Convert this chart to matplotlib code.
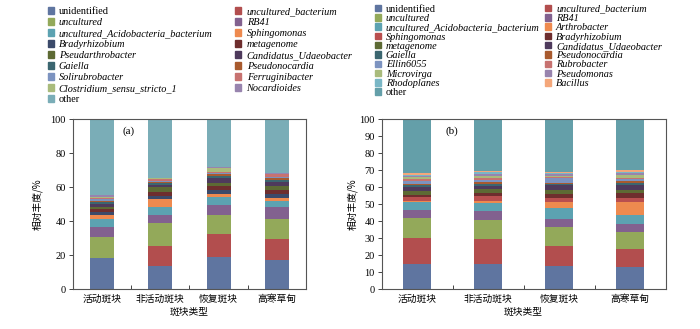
import matplotlib
matplotlib.use("Agg")
import matplotlib.pyplot as plt
from matplotlib.patches import Rectangle
import numpy as np

plt.rcParams['font.family'] = ['Liberation Serif', 'Noto Sans CJK SC']
CJK = ['Noto Sans CJK SC', 'DejaVu Sans']

# categories (x axis)
patches = ['活动斑块', '非活动斑块', '恢复斑块', '高寒草甸']

# ---- panel (a) : series, bottom to top ----
names_a = ['unidentified', 'uncultured_bacterium', 'uncultured', 'RB41',
           'uncultured_Acidobacteria_bacterium', 'Sphingomonas', 'Bradyrhizobium',
           'metagenome', 'Pseudarthrobacter', 'Candidatus_Udaeobacter', 'Gaiella',
           'Pseudonocardia', 'Solirubrobacter', 'Ferruginibacter',
           'Clostridium_sensu_stricto_1', 'Nocardioides', 'other']
unidentified_a = [18.2, 13.7, 19.2, 17.1]
uncult_bact_a = [0.3, 11.8, 13.2, 12.7]
uncultured_a = [12.3, 13.5, 11.1, 11.8]
rb41_a = [5.9, 4.5, 5.9, 6.8]
acido_a = [4.9, 4.8, 4.8, 3.8]
sphingo_a = [2.3, 5.0, 2.0, 1.5]
brady_a = [1.6, 1.6, 2.4, 2.5]
metagenome_a = [2.0, 2.5, 2.4, 2.4]
pseudarthro_a = [1.0, 2.5, 1.6, 2.0]
candidatus_a = [1.8, 1.6, 3.1, 2.4]
gaiella_a = [1.2, 1.2, 1.2, 1.2]
pseudonoc_a = [0.6, 0.6, 0.8, 1.2]
solirubro_a = [0.9, 0.6, 0.8, 0.8]
ferrugini_a = [0.9, 1.2, 0.6, 1.6]
clostridium_a = [0.4, 0.2, 2.5, 0.3]
nocardioides_a = [1.0, 0.2, 0.6, 0.3]
other_a = [44.7, 34.5, 27.8, 31.6]
values_a = [unidentified_a, uncult_bact_a, uncultured_a, rb41_a, acido_a, sphingo_a,
            brady_a, metagenome_a, pseudarthro_a, candidatus_a, gaiella_a, pseudonoc_a,
            solirubro_a, ferrugini_a, clostridium_a, nocardioides_a, other_a]
colors_a = ['#5f75a0', '#b24e4e', '#93a95a', '#82618f', '#5ca2b1', '#ee8a4f',
            '#3b4a6a', '#6e2e2e', '#5d6a34', '#4e3a5c', '#3b6670', '#a85a2e',
            '#7c93c0', '#c77270', '#a9bb7c', '#9884ae', '#7aadb7']

# ---- panel (b) ----
names_b = ['unidentified', 'uncultured_bacterium', 'uncultured', 'RB41',
           'uncultured_Acidobacteria_bacterium', 'Arthrobacter', 'Sphingomonas',
           'Bradyrhizobium', 'metagenome', 'Candidatus_Udaeobacter', 'Gaiella',
           'Pseudonocardia', 'Ellin6055', 'Rubrobacter', 'Microvirga', 'Pseudomonas',
           'Rhodoplanes', 'Bacillus', 'other']
unidentified_b = [14.7, 14.7, 13.5, 12.9]
uncult_bact_b = [15.6, 15.0, 12.0, 10.8]
uncultured_b = [11.8, 11.2, 11.0, 10.2]
rb41_b = [4.5, 5.4, 4.8, 4.7]
acido_b = [4.6, 4.3, 6.7, 4.9]
arthro_b = [0.8, 1.6, 3.1, 8.0]
sphingo_b = [2.5, 2.7, 2.7, 2.0]
brady_b = [1.0, 2.0, 2.0, 2.9]
metagenome_b = [2.5, 2.0, 2.5, 2.0]
candidatus_b = [2.0, 1.6, 2.9, 2.9]
gaiella_b = [1.4, 1.6, 1.0, 1.0]
pseudonoc_b = [0.6, 0.8, 0.6, 1.6]
ellin_b = [1.8, 1.2, 2.4, 0.8]
rubro_b = [1.0, 1.2, 0.8, 0.8]
microvirga_b = [1.0, 1.2, 0.8, 1.6]
pseudomonas_b = [1.0, 1.6, 0.8, 1.2]
rhodoplanes_b = [0.6, 0.8, 0.6, 0.6]
bacillus_b = [0.8, 0.6, 0.6, 1.0]
other_b = [31.8, 30.5, 31.2, 30.1]
values_b = [unidentified_b, uncult_bact_b, uncultured_b, rb41_b, acido_b, arthro_b,
            sphingo_b, brady_b, metagenome_b, candidatus_b, gaiella_b, pseudonoc_b,
            ellin_b, rubro_b, microvirga_b, pseudomonas_b, rhodoplanes_b, bacillus_b,
            other_b]
colors_b = ['#5f75a0', '#b24e4e', '#93a95a', '#82618f', '#5ca2b1', '#ee8a4f',
            '#b94f4f', '#6e2e2e', '#5d6a34', '#4e3a5c', '#3b6670', '#a85a2e',
            '#7c93c0', '#c77270', '#a9bb7c', '#9884ae', '#7ab7c6', '#f4a77a',
            '#649fa9']

UPRIGHT = ('unidentified', 'other')

fig = plt.figure(figsize=(7, 3.29), dpi=100)
ax_a = fig.add_axes([0.1039, 0.1207, 0.3333, 0.5167])
ax_b = fig.add_axes([0.5453, 0.1207, 0.4057, 0.5167])


def draw_panel(ax, names, values, colors, width, yticks, tag, tag_x):
    x = np.arange(len(patches))
    bottom = np.zeros(len(patches))
    for name, vals, col in zip(names, values, colors):
        ax.bar(x, vals, width, bottom=bottom, color=col, label=name)
        bottom += np.array(vals)
    ax.set_xlim(-0.5, len(patches) - 0.5)
    ax.set_ylim(0, 100)
    ax.set_yticks(yticks)
    ax.tick_params(axis='y', direction='out', length=3, width=0.7,
                   labelsize=7.5, pad=2, color='#444444')
    ax.set_xticks(x)
    ax.set_xticklabels(patches, fontfamily=CJK, fontsize=7)
    ax.tick_params(axis='x', which='major', length=0, pad=3.5)
    ax.set_xticks([0.5, 1.5, 2.5], minor=True)
    ax.tick_params(axis='x', which='minor', direction='in', length=3,
                   width=0.7, color='#444444')
    for sp in ax.spines.values():
        sp.set_color('#555555')
        sp.set_linewidth(0.8)
    ax.set_xlabel('斑块类型', fontfamily=CJK, fontsize=7, labelpad=2)
    ax.text(tag_x, 93, tag, fontsize=8, ha='center', va='center')


draw_panel(ax_a, names_a, values_a, colors_a, 0.41, range(0, 101, 20), '(a)', 0.45)
draw_panel(ax_b, names_b, values_b, colors_b, 0.39, range(0, 101, 10), '(b)', 0.49)

fig.text(0.054, 0.379, '相对丰度/%', rotation=90, ha='center', va='center',
         fontfamily=CJK, fontsize=7)
fig.text(0.504, 0.379, '相对丰度/%', rotation=90, ha='center', va='center',
         fontfamily=CJK, fontsize=7)


def add_legend(names, colors, anchor, spacing, colspace):
    handles = [Rectangle((0, 0), 1, 1, color=c) for c in colors]
    # reference legend reads row by row: reorder for column-major filling
    order = list(range(0, len(names), 2)) + list(range(1, len(names), 2))
    leg = fig.legend([handles[i] for i in order], [names[i] for i in order],
                     loc='upper left', bbox_to_anchor=anchor,
                     ncol=2, frameon=False, fontsize=7.4, handlelength=0.6,
                     handleheight=0.6, handletextpad=0.5, columnspacing=colspace,
                     labelspacing=spacing, borderpad=0, borderaxespad=0)
    for t in leg.get_texts():
        if t.get_text() not in UPRIGHT:
            t.set_fontstyle('italic')
    return leg


add_legend(names_a, colors_a, (0.068, 0.979), 0.2, 2.2)
add_legend(names_b, colors_b, (0.535, 0.986), 0.03, 0.5)

fig.savefig('out.png', dpi=100)
